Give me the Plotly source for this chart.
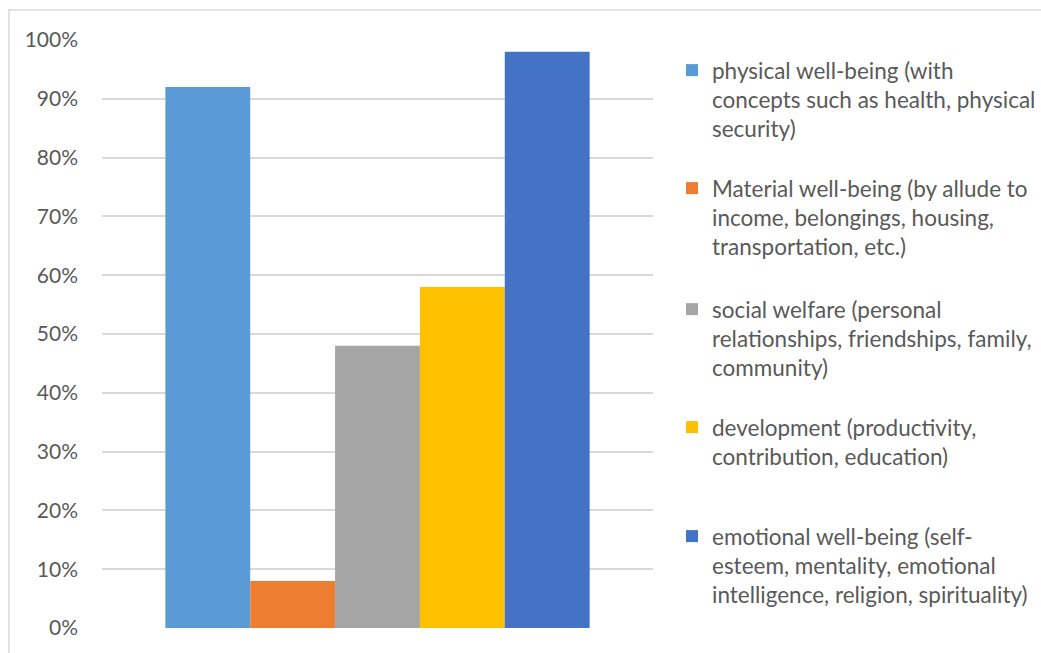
import plotly.graph_objects as go

categories = [""]
series_names = [
    "physical well-being (with<br>concepts such as health, physical<br>security)",
    "Material well-being (by allude to<br>income, belongings, housing,<br>transportation, etc.)",
    "social welfare (personal<br>relationships, friendships, family,<br>community)",
    "development (productivity,<br>contribution, education)",
    "emotional well-being (self-<br>esteem, mentality, emotional<br>intelligence, religion, spirituality)",
]
series_values = [0.92, 0.08, 0.48, 0.58, 0.98]
series_colors = ["#5B9BD5", "#ED7D31", "#A5A5A5", "#FFC000", "#4472C4"]
tick_values = [i / 10 for i in range(11)]
tick_labels = [f"{i * 10}%" for i in range(11)]

W, H = 1041, 653
ML, MR, MT, MB = 102, 388, 40, 24.5
FONT = "Lato"
TXT = "#595959"

# legend first-line top positions in pixels
legend_tops = [49, 167, 288, 406, 515]

fig = go.Figure()
for i, (name, val, col) in enumerate(zip(series_names, series_values, series_colors)):
    lg = "legend" if i == 0 else f"legend{i + 1}"
    fig.add_trace(go.Bar(x=categories, y=[val], name=name, marker=dict(color=col, line=dict(width=0)),
                         legend=lg))

layout_legends = {}
for i, top in enumerate(legend_tops):
    key = "legend" if i == 0 else f"legend{i + 1}"
    layout_legends[key] = dict(
        x=(672) / W, xref="container", xanchor="left",
        y=1 - top / H, yref="container", yanchor="top",
        font=dict(family=FONT, size=22.5, color=TXT),
        valign="top", bgcolor="rgba(0,0,0,0)", borderwidth=0,
        itemclick=False, itemdoubleclick=False,
    )

fig.update_layout(
    width=W, height=H,
    margin=dict(l=ML, r=MR, t=MT, b=MB, pad=0),
    paper_bgcolor="white", plot_bgcolor="white",
    barmode="group", bargap=0.23, bargroupgap=0,
    font=dict(family=FONT, size=21, color=TXT),
    showlegend=True,
    **layout_legends,
    xaxis=dict(showticklabels=False, showgrid=False, zeroline=False, showline=False, ticks=""),
    yaxis=dict(range=[0, 1], tickvals=tick_values, ticktext=tick_labels,
               showgrid=True, gridcolor="#D9D9D9", gridwidth=1.5,
               zeroline=False, showline=False, ticks="",
               ticklabelstandoff=23,
               tickfont=dict(family=FONT, size=21, color=TXT)),
    shapes=[dict(type="path", xref="paper", yref="paper",
                 path=f"M {(9 - ML) / (W - ML - MR)},{-(MB + 5) / (H - MT - MB)} L {(9 - ML) / (W - ML - MR)},{(H - MB - 10) / (H - MT - MB)} L {(W + 5 - ML) / (W - ML - MR)},{(H - MB - 10) / (H - MT - MB)}",
                 line=dict(color="#D9D9D9", width=1.5), layer="below")],
)

fig.write_html("out.html")
